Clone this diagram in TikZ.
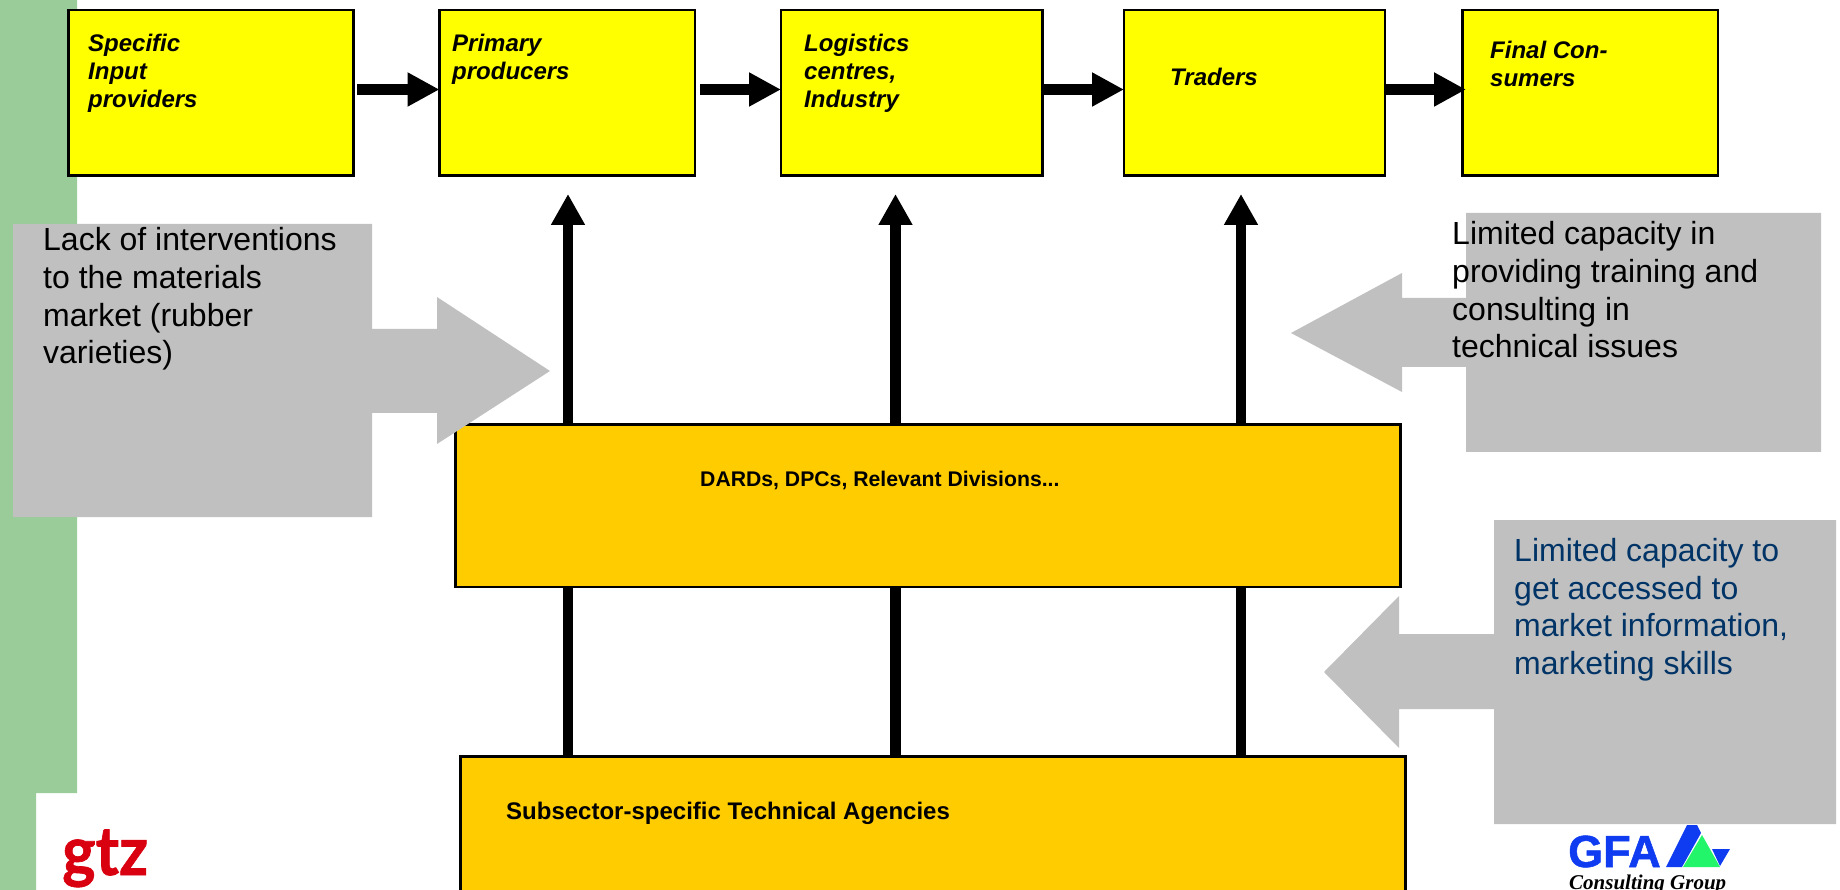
\documentclass[tikz,border=0pt]{standalone}
\usepackage{fontspec}
\setmainfont{Liberation Sans}
\newfontfamily\gtzfont[FakeBold=1]{Lato}
\newfontfamily\gfaserif{Liberation Serif}
\newfontfamily\gfasans[FakeBold=1.2]{Liberation Sans}
\usetikzlibrary{arrows.meta}
\definecolor{sidegreen}{HTML}{99CC99}
\definecolor{calloutgray}{HTML}{C0C0C0}
\definecolor{boxyellow}{HTML}{FFFF00}
\definecolor{boxorange}{HTML}{FFCC00}
\definecolor{noteblue}{HTML}{003366}
\definecolor{gtzred}{HTML}{D9000F}
\definecolor{gfablue}{HTML}{0F3CF0}
\definecolor{gfagreen}{HTML}{22F56A}
\tikzset{
  chainbox/.style={draw=black,line width=2.8pt,outer sep=0pt,fill=boxyellow,minimum width=#1,minimum height=165.7pt,anchor=north west,inner sep=0pt},
  agencybox/.style={draw=black,line width=2.8pt,outer sep=0pt,fill=boxorange,anchor=north west,inner sep=0pt},
  chainlabel/.style={anchor=north west,inner sep=0pt,align=left,font=\fontsize{24}{28.4}\selectfont\bfseries\itshape},
  agencylabel/.style={anchor=north west,inner sep=0pt,align=left,font=\fontsize{#1}{26}\selectfont\bfseries},
  notelabel/.style={anchor=north west,inner sep=0pt,align=left,font=\fontsize{32}{37.7}\selectfont},
  flow/.style={line width=11pt,-{Triangle[length=32pt,width=32pt]}},
  rise/.style={line width=10.7pt,-{Triangle[length=31pt,width=32pt]}},
  link/.style={line width=10.7pt},
}
\begin{document}
\begin{tikzpicture}[x=1pt,y=-1pt]
\clip (0,0) rectangle (1840,890);
% side band
\fill[sidegreen] (0,0) -- (77,0) -- (77,793) -- (36,793) -- (36,890) -- (0,890) -- cycle;
% chain boxes
\node[chainbox=284.8pt] (input) at (68.5,10) {};
\node[chainbox=255.5pt] (prim) at (439.5,10) {};
\node[chainbox=261.5pt] (logi) at (781,10) {};
\node[chainbox=261pt] (trad) at (1124,10) {};
\node[chainbox=255.5pt] (cons) at (1462.5,10) {};
% agency boxes
\node[agencybox,minimum width=945pt,minimum height=162.7pt] (dards) at (455.4,424.3) {};
\node[agencybox,minimum width=945pt,minimum height=160pt] (agency) at (460.4,756.5) {};
% helper coordinates
\coordinate (hy) at (0,89.5);
\coordinate (va) at (568,0);
\coordinate (vb) at (895.5,0);
\coordinate (vc) at (1241,0);
% horizontal arrows
\draw[flow,shorten <=4pt] (input.east |- hy) -- (prim.west |- hy);
\draw[flow,shorten <=5pt] (prim.east |- hy) -- (logi.west |- hy);
\draw[flow] (logi.east |- hy) -- (trad.west |- hy);
\draw[flow,shorten >=-3.5pt] (trad.east |- hy) -- (cons.west |- hy);
% vertical arrows
\draw[rise,shorten >=18.3pt] (va |- dards.north) -- (va |- prim.south);
\draw[rise,shorten >=18.3pt] (vb |- dards.north) -- (vb |- logi.south);
\draw[rise,shorten >=18.3pt] (vc |- dards.north) -- (vc |- trad.south);
\draw[link] (va |- agency.north) -- (va |- dards.south);
\draw[link] (vb |- agency.north) -- (vb |- dards.south);
\draw[link] (vc |- agency.north) -- (vc |- dards.south);
% gray callouts
\fill[calloutgray] (13,224) -- (372,224) -- (372,329) -- (437,329) -- (437,297) -- (550,371) -- (437,444) -- (437,413) -- (372,413) -- (372,517) -- (13,517) -- cycle;
\fill[calloutgray] (1821,213) -- (1466,213) -- (1466,298) -- (1402,298) -- (1402,273) -- (1291,333) -- (1402,392) -- (1402,367) -- (1466,367) -- (1466,452) -- (1821,452) -- cycle;
\fill[calloutgray] (1836,520) -- (1494,520) -- (1494,634) -- (1399,634) -- (1399,596) -- (1324,672) -- (1399,748) -- (1399,709) -- (1494,709) -- (1494,824) -- (1836,824) -- cycle;
% chain labels
\node[chainlabel] (t1) at (88,33.5) {Specific\\Input\\providers};
\node[chainlabel] (t2) at (452,33.5) {Primary\\producers};
\node[chainlabel] (t3) at (804,33.5) {Logistics\\centres,\\Industry};
\node[chainlabel] (t4) at (1170,67.5) {Traders};
\node[chainlabel] (t5) at (1490,40.5) {Final Con-\\sumers};
\node[agencylabel=21.2] (t6) at (700,471) {DARDs, DPCs, Relevant Divisions...};
\node[agencylabel=24] (t7) at (506,802) {Subsector-specific Technical Agencies};
\node[notelabel] (n1) at (43,227.5) {Lack of interventions\\to the materials\\market (rubber\\varieties)};
\node[notelabel] (n2) at (1452,221.5) {Limited capacity in\\providing training and\\consulting in\\technical issues};
\node[notelabel,text=noteblue] (n3) at (1514,538) {Limited capacity to\\get accessed to\\market information,\\marketing skills};
% logos
\node[anchor=base west,inner sep=0pt,text=gtzred,xscale=.93,font=\gtzfont\fontsize{68}{68}\selectfont\bfseries] (gtz) at (62,875) {gtz};
\node[anchor=base west,inner sep=0pt,text=gfablue,font=\gfasans\fontsize{45}{45}\selectfont\bfseries] (gfa) at (1568,867) {GFA};
\fill[gfablue] (1666,867) -- (1687,825) -- (1697,825) -- (1701,833) -- (1682,867) -- cycle;
\fill[gfablue] (1712,849) -- (1730,849) -- (1720,866) -- cycle;
\fill[gfagreen] (1683,867) -- (1702,835) -- (1720,867) -- cycle;
\node[anchor=base west,inner sep=0pt,font=\gfaserif\fontsize{21}{21}\selectfont\bfseries\itshape] (gfatext) at (1569,889) {Consulting Group};
\end{tikzpicture}
\end{document}
